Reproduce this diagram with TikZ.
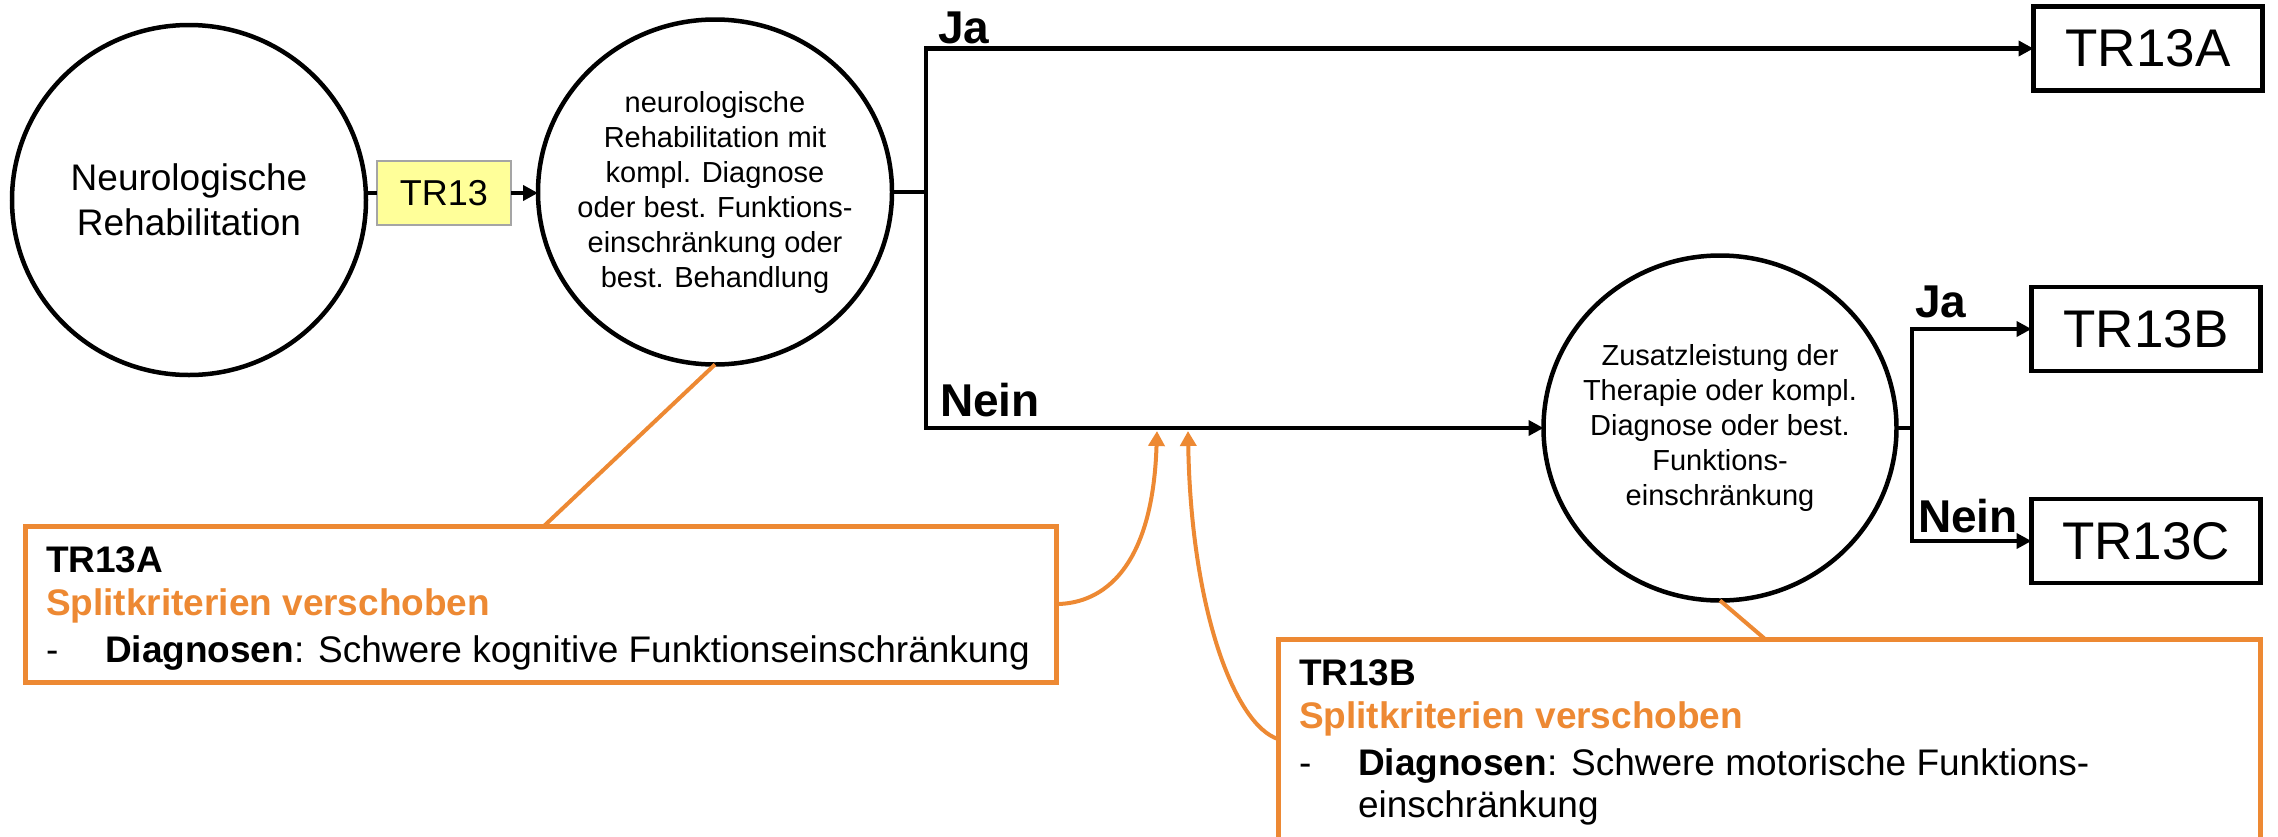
\documentclass[tikz,border=0pt]{standalone}
\usepackage{fontspec}
\setmainfont{Liberation Sans}
\usetikzlibrary{shapes.geometric,arrows.meta}
\definecolor{splitorange}{RGB}{237,137,51}
\definecolor{tryellow}{RGB}{255,255,153}
\definecolor{trgray}{RGB}{165,165,165}

\begin{document}
\begin{tikzpicture}[x=1pt,y=-1pt,
  every node/.style={inner sep=0pt, outer sep=0pt},
  decision/.style={ellipse, draw=black, line width=4.5pt, fill=white},
  decisiontext/.style={align=center},
  result/.style={rectangle, draw=black, line width=4.5pt, minimum width=229pt,
    minimum height=84pt, font=\fontsize{53}{60}\selectfont},
  flow/.style={draw=black, line width=4.5pt},
  flowarrow/.style={flow, -{Triangle[length=15pt,width=15pt]}},
  answer/.style={font=\fontsize{46}{50}\selectfont\bfseries, anchor=base west},
  note/.style={rectangle, draw=splitorange, line width=5pt},
  noteline/.style={draw=splitorange, line width=4pt},
  notearrow/.style={noteline, -{Triangle[length=15pt,width=16pt]}},
  notetext/.style={font=\fontsize{37}{45}\selectfont, anchor=base west},
  notehead/.style={notetext, font=\fontsize{37}{45}\selectfont\bfseries},
  notesplit/.style={notehead, text=splitorange},
]
\useasboundingbox (0,0) rectangle (2278,836);
\clip (0,0) rectangle (2278,836);

% decision ellipses and their texts
\node[decision, minimum width=354pt, minimum height=350pt] (c1) at (189,200) {};
\node[decisiontext, font=\fontsize{37}{45}\selectfont] (c1t) at (c1) {Neurologische\\Rehabilitation};

\node[decision, minimum width=354pt, minimum height=345pt] (c2) at (715,192) {};
\node[decisiontext, font=\fontsize{29}{35}\selectfont] (c2t) at (c2)
  {neurologische\\Rehabilitation mit\\kompl. Diagnose\\oder best. Funktions-\\einschränkung oder\\best. Behandlung};

\node[decision, minimum width=353pt, minimum height=345pt] (c3) at (1720,428) {};
\node[decisiontext, font=\fontsize{29}{35}\selectfont] (c3t) at (c3)
  {Zusatzleistung der\\Therapie oder kompl.\\Diagnose oder best.\\Funktions-\\einschränkung};

% the TR13 label
\node[rectangle, draw=trgray, line width=2pt, fill=tryellow, minimum width=134pt,
  minimum height=64pt, font=\fontsize{36}{40}\selectfont] (tr13) at (444,193) {TR13};

% resulting groups
\node[result] (ra) at (2148,48.5) {TR13A};
\node[result] (rb) at (2146,329) {TR13B};
\node[result] (rc) at (2146,541) {TR13C};

% branch points
\coordinate (s1) at (926,192);
\coordinate (s2) at (1912,428);

% flow connectors
\draw[flow] (c1.east |- tr13.west) -- (tr13.west);
\draw[flowarrow] (tr13.east) -- (tr13.east -| c2.west);
\draw[flow] (c2.east) -- (s1);
\draw[flowarrow] (s1) |- (ra.west);
\draw[flowarrow] (s1) |- (c3.west);
\draw[flow] (c3.east) -- (s2);
\draw[flowarrow] (s2) |- (rb.west);
\draw[flowarrow] (s2) |- (rc.west);

% answer labels
\node[answer] (ja1) at (938,43) {Ja};
\node[answer] (nein1) at (940,416) {Nein};
\node[answer] (ja2) at (1915,317) {Ja};
\node[answer] (nein2) at (1918,532) {Nein};

% split criteria notes
\node[note, minimum width=1031pt, minimum height=156pt] (na) at (540.5,604) {};
\node[notehead] (naHead) at (46,572) {TR13A};
\node[notesplit] (naSplit) at (46,615) {Splitkriterien verschoben};
\node[notetext] (naDash) at (46,662) {-};
\node[notetext] (naDiag) at (105,662) {\textbf{Diagnosen}: Schwere kognitive Funktionseinschränkung};

\node[note, minimum width=982pt, minimum height=241pt] (nb) at (1769,759.5) {};
\node[notehead] (nbHead) at (1299,685) {TR13B};
\node[notesplit] (nbSplit) at (1299,728) {Splitkriterien verschoben};
\node[notetext] (nbDash) at (1299,775) {-};
\node[notetext] (nbDiag) at (1358,775) {\textbf{Diagnosen}: Schwere motorische Funktions-};
\node[notetext] (nbDiag2) at (1358,817) {einschränkung};

% note connectors
\coordinate (naTop) at (544,526);
\coordinate (nbTop) at (1765,639);
\coordinate (nbLeft) at (1278,739);
\coordinate (tipA) at (1157,431);
\coordinate (tipB) at (1188,431);
\draw[noteline] (naTop) -- (c2.south);
\draw[noteline] (nbTop) -- (c3.south);
\draw[notearrow] (na.east) .. controls (1085,604) and (1152,590) .. (tipA);
\draw[notearrow] (nbLeft) .. controls (1235,725) and (1191,610) .. (tipB);
\end{tikzpicture}
\end{document}
